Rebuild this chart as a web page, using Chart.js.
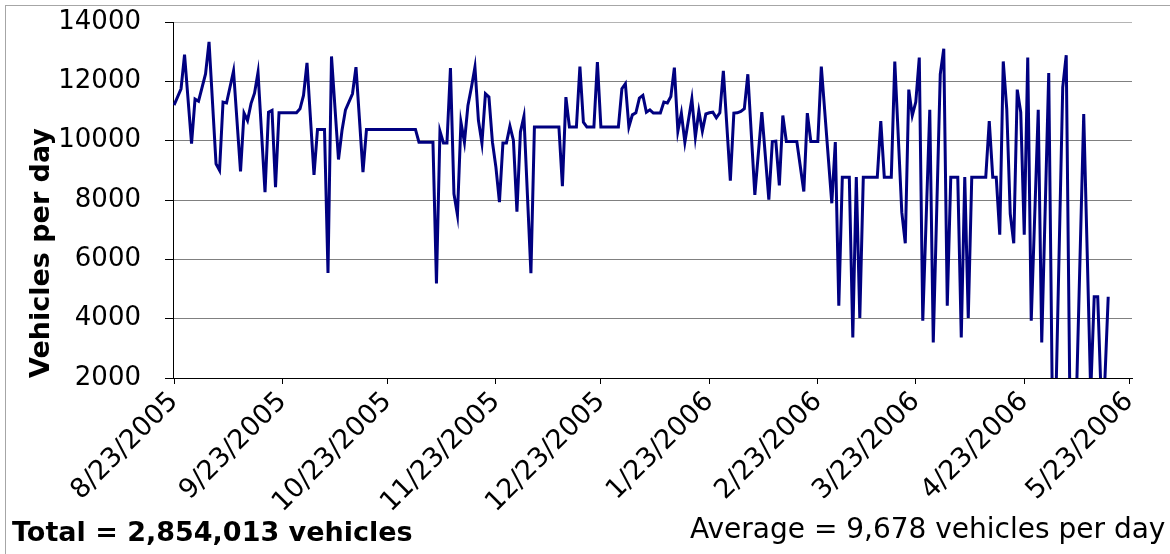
<!DOCTYPE html>
<html>
<head>
<meta charset="utf-8">
<script src="https://cdn.jsdelivr.net/npm/chart.js@4"></script>
<style>
  html, body { margin: 0; padding: 0; background: #fff; }
  #wrap { position: relative; width: 1170px; height: 554px; overflow: hidden; }
  #chart { position: absolute; left: 0; top: 0; }
  #frame { position: absolute; left: 5px; top: 5px; width: 1200px; height: 600px; border: 1px solid #a6a6a6; }
  .note { position: absolute; font-family: "DejaVu Sans", sans-serif; line-height: 26px; color: #000; white-space: nowrap; }
  #total { left: 12px; top: 519px; font-size: 27px; font-weight: bold; }
  #avg { left: 690px; top: 516px; font-size: 28px; }
</style>
</head>
<body>
<div id="wrap">
  <div id="frame"></div>
  <canvas id="chart" width="1170" height="554"></canvas>
  <div class="note" id="total">Total = 2,854,013 vehicles</div>
  <div class="note" id="avg">Average = 9,678 vehicles per day</div>
</div>
<script>
// days since 8/23/2005 and the daily vehicle count read at each vertex
const days = [0, 2, 3, 5, 6, 7, 9, 10, 12, 13, 14, 15, 17, 19, 20, 21, 22, 23, 24, 26, 27, 28, 29, 30, 35, 36, 37, 38, 40, 41, 43, 44, 45, 47, 48, 49, 51, 52, 54, 55, 69, 70, 74, 75, 76, 77, 78, 79, 80, 81, 82, 83, 84, 85, 86, 87, 88, 89, 90, 91, 92, 93, 94, 95, 96, 97, 98, 99, 100, 102, 103, 110, 111, 112, 113, 115, 116, 117, 118, 120, 121, 122, 127, 128, 129, 130, 131, 132, 133, 134, 135, 136, 137, 139, 140, 141, 142, 143, 144, 145, 146, 148, 149, 150, 151, 152, 153, 154, 155, 156, 157, 159, 160, 161, 162, 163, 164, 166, 168, 170, 171, 172, 173, 174, 175, 178, 180, 181, 182, 184, 185, 188, 189, 190, 191, 193, 194, 195, 196, 197, 201, 202, 203, 205, 206, 208, 209, 210, 211, 212, 213, 214, 216, 217, 219, 220, 221, 222, 224, 225, 226, 227, 228, 232, 233, 234, 235, 236, 237, 238, 239, 240, 241, 242, 243, 244, 245, 247, 248, 250, 251, 252, 254, 255, 256, 257, 258, 260, 262, 263, 264, 265, 266, 267];
const vehicles = [11200, 11750, 12900, 9900, 11400, 11330, 12250, 13330, 9220, 9000, 11300, 11270, 12350, 8960, 10930, 10680, 11250, 11600, 12300, 8260, 10960, 11020, 8430, 10940, 10940, 11075, 11525, 12620, 8850, 10380, 10380, 5540, 12840, 9365, 10340, 11040, 11580, 12480, 8940, 10380, 10380, 9950, 9950, 5190, 10320, 9920, 9920, 12450, 8210, 7500, 10625, 9950, 11190, 11800, 12480, 10680, 9920, 11580, 11470, 9950, 9100, 7925, 9920, 9920, 10490, 10010, 7610, 10290, 10820, 5530, 10460, 10460, 8465, 11470, 10460, 10460, 12500, 10625, 10460, 10460, 12650, 10460, 10460, 11750, 11920, 10460, 10870, 10940, 11435, 11525, 10960, 11040, 10930, 10930, 11300, 11270, 11490, 12460, 10320, 10930, 9950, 11410, 10120, 11000, 10320, 10900, 10940, 10960, 10770, 10940, 12350, 8650, 10930, 10940, 10985, 11075, 12240, 8170, 10960, 8015, 9970, 9985, 8490, 10850, 9970, 9970, 8285, 10930, 9970, 9970, 12500, 7890, 9950, 4440, 8770, 8770, 3370, 8770, 4020, 8770, 8770, 10660, 8770, 8770, 12670, 7590, 6540, 11720, 10850, 11300, 12800, 3930, 11040, 3200, 12240, 13100, 4440, 8770, 8770, 3370, 8770, 4020, 8770, 8770, 10660, 8770, 8770, 6830, 12670, 11075, 7530, 6540, 11720, 10960, 6830, 12800, 3930, 11040, 3200, 12280, 1500, 1000, 11800, 12880, 1800, 500, 1700, 10900, 1500, 4740, 4740, 1300, 1800, 4740];

const tickDays = [0, 31, 61, 92, 122, 153, 184, 212, 243, 273];
const tickLabels = ['8/23/2005', '9/23/2005', '10/23/2005', '11/23/2005', '12/23/2005',
                    '1/23/2006', '2/23/2006', '3/23/2006', '4/23/2006', '5/23/2006'];

const points = days.map((d, i) => ({ x: d, y: vehicles[i] }));

const ctx = document.getElementById('chart').getContext('2d');
new Chart(ctx, {
    type: 'line',
    data: {
        datasets: [{
            data: points,
            borderColor: '#000080',
            borderWidth: 3,
            pointRadius: 0,
            tension: 0,
            fill: false
        }]
    },
    options: {
        responsive: false,
        animation: false,
        events: [],
        layout: { padding: { top: 22, right: 38, left: 0, bottom: 0 } },
        plugins: { legend: { display: false }, tooltip: { enabled: false } },
        scales: {
            x: {
                type: 'linear',
                min: -0.3,
                max: 273.8,
                afterBuildTicks: scale => { scale.ticks = tickDays.map(v => ({ value: v })); },
                afterFit: scale => { scale.height = 176; scale.paddingTop = 0; scale.paddingBottom = 0; },
                border: { color: '#000', width: 1 },
                grid: { drawOnChartArea: false, color: '#000', tickLength: 6 },
                ticks: {
                    autoSkip: false,
                    minRotation: 45,
                    maxRotation: 45,
                    padding: 2,
                    color: '#000',
                    font: { family: 'DejaVu Sans', size: 27 },
                    callback: value => tickLabels[tickDays.indexOf(value)]
                }
            },
            y: {
                min: 2000,
                max: 14000,
                afterFit: scale => { scale.width = 173; scale.paddingTop = 0; scale.paddingBottom = 0; },
                border: { color: '#000', width: 1 },
                grid: {
                    color: c => c.tick && c.tick.value === 14000 ? '#b4b4b4' : '#808080',
                    tickColor: '#000',
                    tickLength: 8
                },
                ticks: {
                    stepSize: 2000,
                    padding: 24,
                    color: '#000',
                    font: { family: 'DejaVu Sans', size: 26 },
                    callback: value => String(value)
                },
                title: {
                    display: true,
                    text: 'Vehicles per day',
                    align: 'start',
                    color: '#000',
                    padding: { top: 26 },
                    font: { family: 'DejaVu Sans', size: 27, weight: 'bold' }
                }
            }
        }
    }
});
</script>
</body>
</html>
